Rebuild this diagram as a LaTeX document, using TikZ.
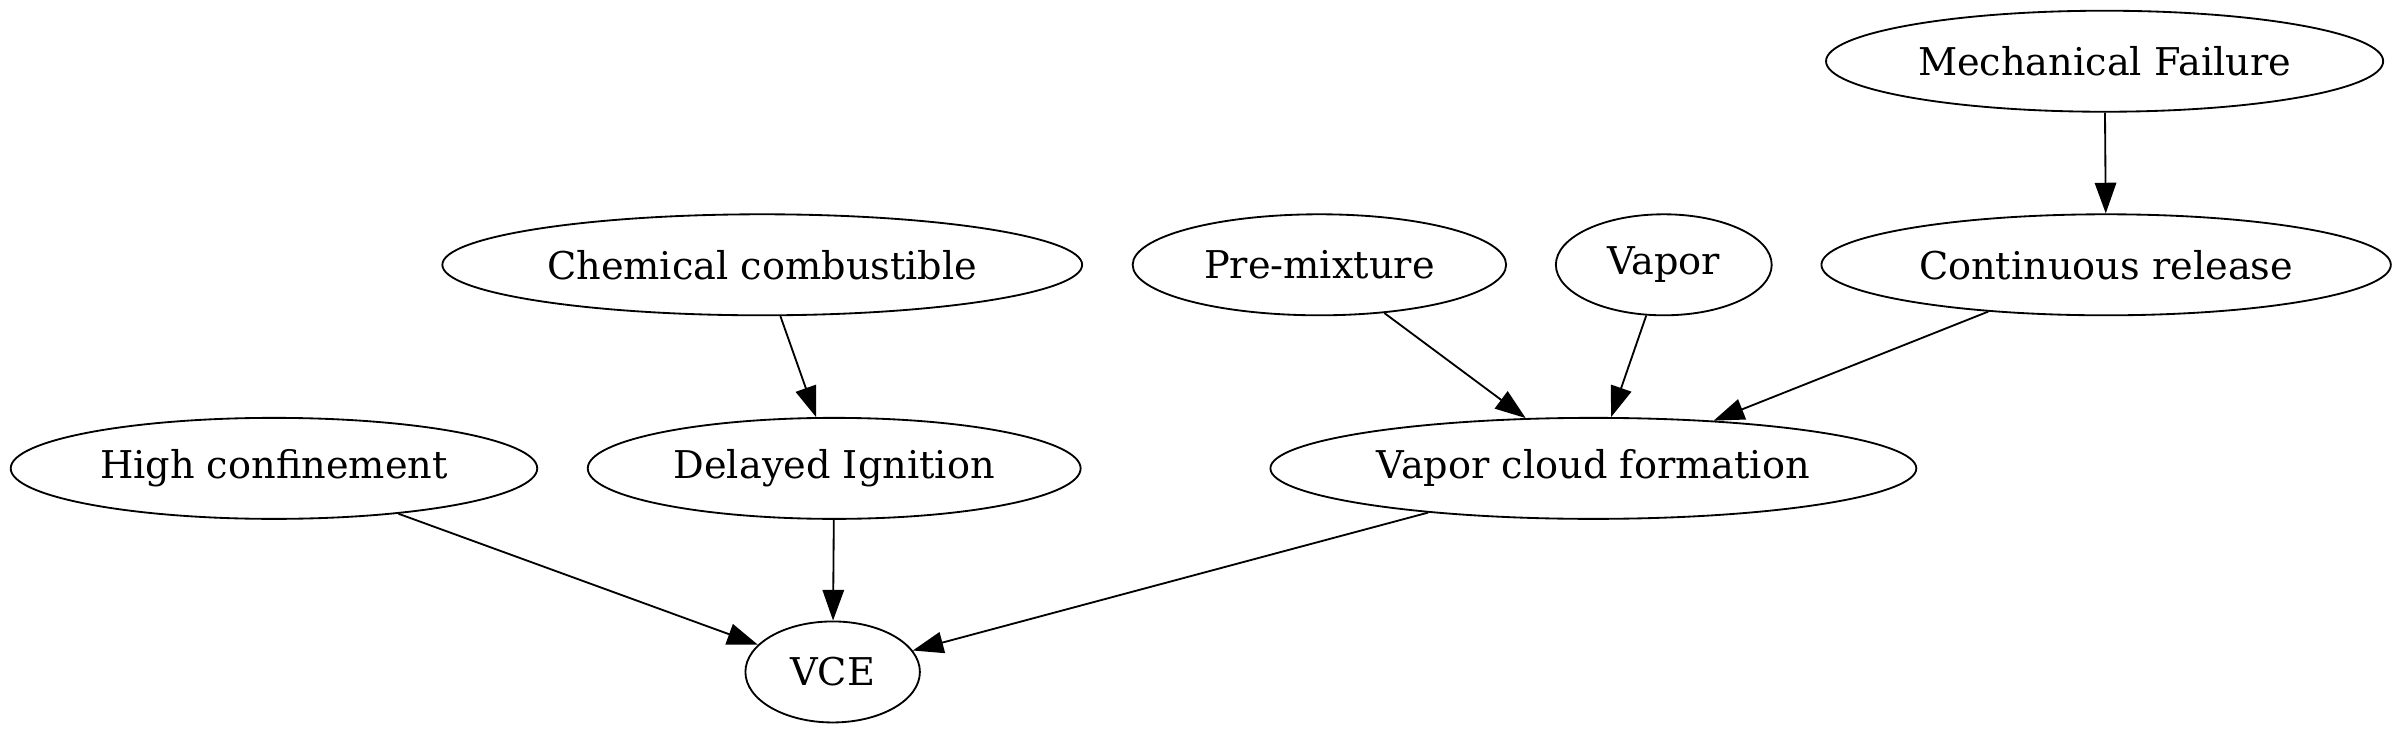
\documentclass[tikz,border=0pt]{standalone}
\usepackage{fontspec}
\setmainfont{DejaVu Serif}
\usetikzlibrary{shapes.geometric,arrows.meta}

\begin{document}
\begin{tikzpicture}[x=1pt,y=-1pt,>={Triangle[length=20pt,width=14pt]},
      ev/.style={draw,ellipse,line width=1.2pt,inner sep=0pt,minimum height=66pt,
                 font=\fontsize{25}{30}\selectfont},
      ar/.style={->,line width=1.2pt}]
    \useasboundingbox (0,0) rectangle (1568,480);
    \node[ev,minimum width=364pt] (mech) at (1375,40) {Mechanical Failure};
    \node[ev,minimum width=418pt] (chem) at (498,173) {Chemical combustible};
    \node[ev,minimum width=244pt] (premix) at (862,173) {Pre-mixture};
    \node[ev,minimum width=141pt] (vapor) at (1087,173) {Vapor};
    \node[ev,minimum width=372pt] (cont) at (1376,173) {Continuous release};
    \node[ev,minimum width=344pt] (highconf) at (179,306) {High confinement};
    \node[ev,minimum width=322pt] (delayed) at (545,306) {Delayed Ignition};
    \node[ev,minimum width=422pt] (vcf) at (1041,306) {Vapor cloud formation};
    \node[ev,minimum width=114pt] (vce) at (544,439) {VCE};
    \foreach \a/\b in {mech/cont,chem/delayed,premix/vcf,vapor/vcf,cont/vcf,highconf/vce,delayed/vce,vcf/vce}
      \draw[ar] (\a) -- (\b);
\end{tikzpicture}
\end{document}
